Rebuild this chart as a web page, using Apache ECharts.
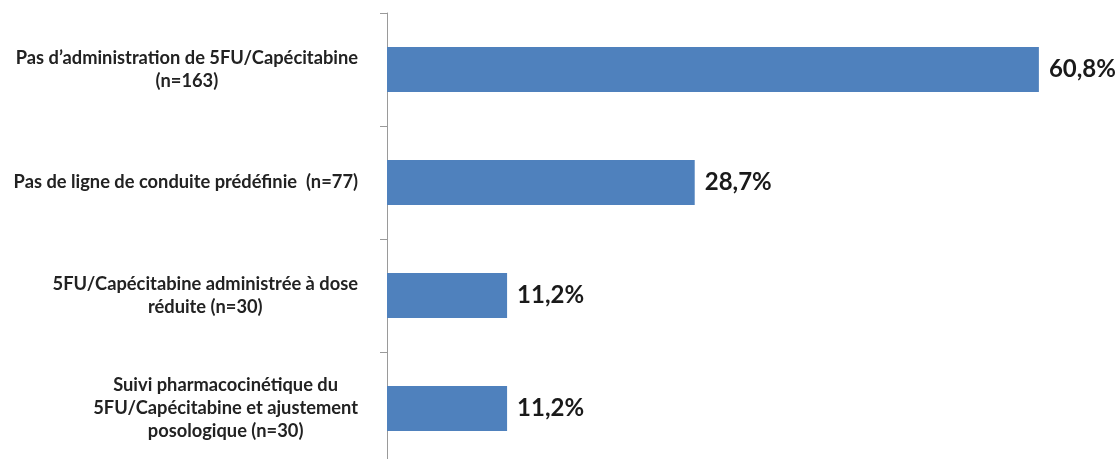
<!DOCTYPE html>
<html>
<head>
<meta charset="utf-8">
<script src="https://cdn.jsdelivr.net/npm/echarts@6/dist/echarts.min.js"></script>
<style>
html,body{margin:0;padding:0;background:#fff;}
#c{width:1120px;height:459px;}
</style>
</head>
<body>
<div id="c"></div>
<script>
var categories = [
  "Pas d\u2019administration de 5FU/Capécitabine\n(n=163)",
  "Pas de ligne de conduite prédéfinie  (n=77)",
  "5FU/Capécitabine administrée à dose\nréduite (n=30)",
  "Suivi pharmacocinétique du\n5FU/Capécitabine et ajustement\nposologique (n=30)"
];
var values = [60.8, 28.7, 11.2, 11.2];

var chart = echarts.init(document.getElementById('c'));
chart.setOption({
  animation: false,
  backgroundColor: '#ffffff',
  grid: {left: 387, right: 20, top: 13, bottom: -6, containLabel: false, outerBoundsMode: 'none'},
  xAxis: {
    type: 'value', min: 0, max: 66.5, show: false
  },
  yAxis: {
    type: 'category',
    inverse: true,
    data: categories,
    boundaryGap: true,
    axisLine: {show: true, lineStyle: {color: '#9a9a9a', width: 1}},
    axisTick: {show: true, length: 7, inside: false, lineStyle: {color: '#9a9a9a', width: 1}},
    axisLabel: {
      margin: 29,
      formatter: function (v) {
        return v.split('\n').map(function (l) { return '{a|' + l + '}'; }).join('\n');
      },
      rich: {
        a: {align: 'center', fontFamily: 'Lato', fontWeight: 'bold', fontSize: 18.3, lineHeight: 23, color: '#222222'}
      }
    },
    splitLine: {show: false}
  },
  series: [{
    type: 'bar',
    data: values,
    barCategoryGap: '60%',
    itemStyle: {color: '#4f81bd'},
    label: {
      show: true, position: 'right', distance: 10,
      formatter: function (p) { return String(p.value).replace('.', ',') + '%'; },
      fontFamily: 'Lato', fontWeight: 'bold', fontSize: 24, color: '#1a1a1a'
    }
  }]
});
</script>
</body>
</html>
